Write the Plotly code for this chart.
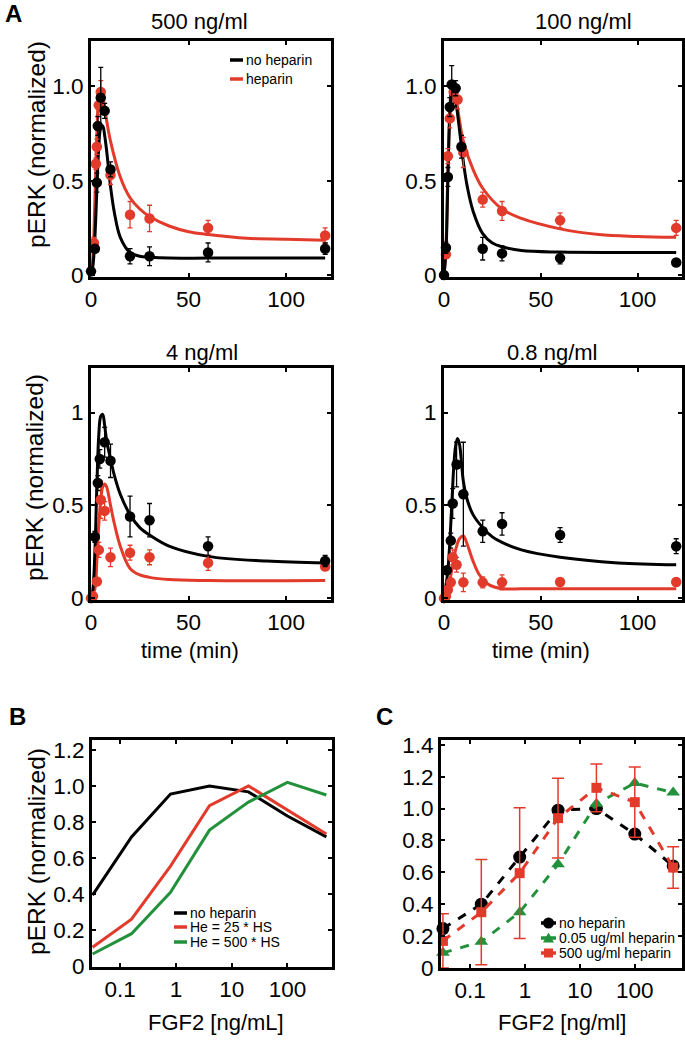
import plotly.graph_objects as go
from plotly.subplots import make_subplots

W, H = 685, 1043
RED = "#e23b2b"
GREEN = "#23913c"
FONT = "Liberation Sans, Arial, sans-serif"

# ---------- A: pERK time courses (time in min) ----------
# 500 ng/ml
t_nh_500 = [0, 2, 3, 3.5, 5, 7, 10, 20, 30, 60, 120]
y_nh_500 = [0.02, 0.14, 0.49, 0.79, 0.94, 0.87, 0.56, 0.10, 0.10, 0.12, 0.14]
e_nh_500 = [0.01, 0.02, 0.05, 0.05, 0.16, 0.04, 0.04, 0.04, 0.05, 0.05, 0.03]
t_he_500 = [1.5, 2.5, 3, 4, 5, 10, 20, 30, 60, 120]
y_he_500 = [0.17, 0.59, 0.68, 0.90, 0.97, 0.53, 0.32, 0.30, 0.25, 0.21]
e_he_500 = [0.03, 0.03, 0.04, 0.05, 0.06, 0.05, 0.07, 0.07, 0.04, 0.04]
tf_nh_500 = [0, 1, 2, 3, 4, 5, 6, 7, 8, 10, 12, 15, 20, 25, 30, 40, 60, 90, 120]
yf_nh_500 = [0, 0.05, 0.2, 0.45, 0.68, 0.78, 0.79, 0.74, 0.66, 0.47, 0.33, 0.2, 0.12, 0.1, 0.095, 0.09, 0.09, 0.09, 0.09]
tf_he_500 = [0, 1, 2, 3, 4, 5, 6, 8, 10, 15, 20, 25, 30, 40, 50, 60, 80, 100, 120]
yf_he_500 = [0, 0.1, 0.4, 0.75, 0.95, 0.99, 0.95, 0.82, 0.71, 0.52, 0.41, 0.35, 0.31, 0.26, 0.23, 0.215, 0.195, 0.19, 0.185]

# 100 ng/ml
t_nh_100 = [0, 1, 2, 3, 4, 6, 9, 20, 30, 60, 120]
y_nh_100 = [0.0, 0.145, 0.52, 0.89, 1.01, 0.99, 0.68, 0.14, 0.115, 0.09, 0.067]
e_nh_100 = [0.01, 0.03, 0.05, 0.05, 0.1, 0.04, 0.06, 0.06, 0.04, 0.03, 0.02]
t_he_100 = [1, 2, 3, 5, 7, 10, 20, 30, 60, 120]
y_he_100 = [0.11, 0.63, 0.83, 0.97, 0.93, 0.65, 0.40, 0.34, 0.29, 0.25]
e_he_100 = [0.02, 0.04, 0.05, 0.06, 0.05, 0.08, 0.04, 0.05, 0.04, 0.04]
tf_nh_100 = [0, 1, 2, 3, 4, 5, 6, 8, 10, 12, 15, 20, 25, 30, 40, 60, 90, 120]
yf_nh_100 = [0, 0.12, 0.5, 0.85, 0.98, 0.985, 0.93, 0.77, 0.6, 0.47, 0.34, 0.22, 0.17, 0.15, 0.13, 0.122, 0.12, 0.12]
tf_he_100 = [0, 1, 2, 3, 4, 5, 6, 8, 10, 15, 20, 30, 40, 60, 80, 100, 120]
yf_he_100 = [0, 0.15, 0.55, 0.85, 0.97, 0.985, 0.95, 0.82, 0.71, 0.56, 0.46, 0.35, 0.3, 0.245, 0.215, 0.205, 0.2]

# 4 ng/ml
t_nh_4 = [2, 3.5, 4.5, 7, 10, 20, 30, 60, 120]
y_nh_4 = [0.33, 0.62, 0.75, 0.84, 0.74, 0.44, 0.42, 0.28, 0.20]
e_nh_4 = [0.03, 0.04, 0.05, 0.08, 0.09, 0.11, 0.09, 0.05, 0.03]
t_he_4 = [0, 1, 3, 4, 5, 7, 10, 20, 30, 60, 120]
y_he_4 = [0.0, 0.01, 0.09, 0.26, 0.53, 0.47, 0.22, 0.245, 0.22, 0.19, 0.17]
e_he_4 = [0.01, 0.01, 0.02, 0.04, 0.1, 0.05, 0.05, 0.04, 0.04, 0.04, 0.02]
tf_nh_4 = [0, 1, 2, 3, 4, 5, 6, 7, 8, 10, 12, 15, 20, 25, 30, 40, 60, 90, 120]
yf_nh_4 = [0, 0.05, 0.25, 0.6, 0.88, 0.98, 0.99, 0.93, 0.85, 0.75, 0.66, 0.56, 0.45, 0.38, 0.34, 0.28, 0.225, 0.2, 0.19]
tf_he_4 = [0, 2, 3, 4, 5, 6, 7, 8, 10, 12, 15, 20, 25, 30, 40, 60, 120]
yf_he_4 = [0, 0.05, 0.2, 0.4, 0.53, 0.6, 0.615, 0.6, 0.5, 0.4, 0.28, 0.16, 0.125, 0.112, 0.1, 0.095, 0.095]

# 0.8 ng/ml
t_nh_08 = [1.5, 3.5, 4.5, 6.5, 10, 20, 30, 60, 120]
y_nh_08 = [0.15, 0.31, 0.51, 0.72, 0.56, 0.36, 0.40, 0.34, 0.28]
e_nh_08 = [0.02, 0.04, 0.08, 0.12, 0.28, 0.06, 0.06, 0.04, 0.04]
t_he_08 = [0, 1, 2, 3.5, 4.5, 6.5, 10, 20, 30, 60, 120]
y_he_08 = [0.0, 0.01, 0.045, 0.085, 0.22, 0.18, 0.085, 0.085, 0.085, 0.087, 0.087]
e_he_08 = [0.01, 0.01, 0.01, 0.02, 0.04, 0.04, 0.05, 0.03, 0.04, 0.02, 0.02]
tf_nh_08 = [0, 2, 4, 5, 6, 7, 8, 10, 12, 15, 20, 25, 30, 40, 60, 90, 120]
yf_nh_08 = [0, 0.15, 0.5, 0.7, 0.82, 0.86, 0.83, 0.63, 0.53, 0.45, 0.38, 0.33, 0.30, 0.26, 0.22, 0.19, 0.18]
tf_he_08 = [0, 2, 4, 6, 8, 10, 12, 15, 18, 22, 26, 31, 40, 60, 120]
yf_he_08 = [0, 0.05, 0.15, 0.26, 0.32, 0.335, 0.29, 0.2, 0.13, 0.08, 0.06, 0.05, 0.05, 0.05, 0.05]

# ---------- B: model dose response ----------
fgf2_dose = [0.032, 0.16, 0.8, 4, 20, 100, 500]
b_no_heparin = [0.394, 0.717, 0.955, 1.0, 0.967, 0.833, 0.717]
b_he_25 = [0.105, 0.26, 0.555, 0.89, 1.0, 0.867, 0.733]
b_he_500 = [0.067, 0.18, 0.41, 0.755, 0.91, 1.02, 0.95]

# ---------- C: measured dose response ----------
c_no_heparin = [0.247, 0.40, 0.696, 0.99, 1.0, 0.84, 0.64]
c_hep_005 = [0.095, 0.165, 0.35, 0.65, 1.03, 1.16, 1.10]
c_hep_500 = [0.17, 0.35, 0.595, 0.94, 1.13, 1.04, 0.63]
c_hep_500_err = [0.17, 0.33, 0.41, 0.25, 0.15, 0.22, 0.13]


def xd(a, b):
    return [a / W, b / W]


def yd(top, bottom):
    return [1 - bottom / H, 1 - top / H]


fig = make_subplots(rows=3, cols=2)

a_panels = [
    (1, 1, tf_nh_500, yf_nh_500, tf_he_500, yf_he_500, t_nh_500, y_nh_500, e_nh_500, t_he_500, y_he_500, e_he_500),
    (1, 2, tf_nh_100, yf_nh_100, tf_he_100, yf_he_100, t_nh_100, y_nh_100, e_nh_100, t_he_100, y_he_100, e_he_100),
    (2, 1, tf_nh_4, yf_nh_4, tf_he_4, yf_he_4, t_nh_4, y_nh_4, e_nh_4, t_he_4, y_he_4, e_he_4),
    (2, 2, tf_nh_08, yf_nh_08, tf_he_08, yf_he_08, t_nh_08, y_nh_08, e_nh_08, t_he_08, y_he_08, e_he_08),
]

for r, c, tfn, yfn, tfh, yfh, tn, yn, en, th, yh, eh in a_panels:
    fig.add_trace(go.Scatter(x=tfh, y=yfh, mode="lines", line=dict(color=RED, width=3, shape="spline"),
                             name="heparin"), row=r, col=c)
    fig.add_trace(go.Scatter(x=tfn, y=yfn, mode="lines", line=dict(color="black", width=3, shape="spline"),
                             name="no heparin"), row=r, col=c)
    fig.add_trace(go.Scatter(x=th, y=yh, mode="markers", marker=dict(color=RED, size=10.5),
                             error_y=dict(type="data", array=eh, color=RED, thickness=1.3, width=2.5),
                             cliponaxis=False), row=r, col=c)
    fig.add_trace(go.Scatter(x=tn, y=yn, mode="markers", marker=dict(color="black", size=10.5),
                             error_y=dict(type="data", array=en, color="black", thickness=1.3, width=2.5),
                             cliponaxis=False), row=r, col=c)

# B
for name, vals, col in [("no heparin", b_no_heparin, "black"),
                        ("He = 25 * HS", b_he_25, RED),
                        ("He = 500 * HS", b_he_500, GREEN)]:
    fig.add_trace(go.Scatter(x=fgf2_dose, y=vals, mode="lines", name=name,
                             line=dict(color=col, width=3)), row=3, col=1)

# C
fig.add_trace(go.Scatter(x=fgf2_dose, y=c_no_heparin, mode="lines+markers", name="no heparin",
                         line=dict(color="black", width=3, dash="dash"),
                         marker=dict(symbol="circle", size=13, color="black"),
                         cliponaxis=False), row=3, col=2)
fig.add_trace(go.Scatter(x=fgf2_dose, y=c_hep_005, mode="lines+markers", name="0.05 ug/ml heparin",
                         line=dict(color=GREEN, width=3, dash="dash"),
                         marker=dict(symbol="triangle-up", size=12, color=GREEN),
                         cliponaxis=False), row=3, col=2)
fig.add_trace(go.Scatter(x=fgf2_dose, y=c_hep_500, mode="lines+markers", name="500 ug/ml heparin",
                         line=dict(color=RED, width=3, dash="dash"),
                         marker=dict(symbol="square", size=10, color=RED),
                         error_y=dict(type="data", array=c_hep_500_err, color=RED, thickness=1.5, width=6),
                         cliponaxis=False), row=3, col=2)

axis_style = dict(showline=True, linecolor="black", linewidth=3, mirror="ticks", ticks="inside",
                  ticklen=4, tickwidth=1.5, tickcolor="black", showgrid=False, zeroline=False,
                  tickfont=dict(size=22.5, color="black", family=FONT))

a_dom = [(xd(91, 331), yd(41, 277)), (xd(444, 682), yd(41, 277)),
         (xd(91, 331), yd(368, 600)), (xd(444, 682), yd(368, 600))]
a_yticks = [["0", "0.5", "1.0"], ["0", "0.5", "1.0"], ["0", "0.5", "1"], ["0", "0.5", "1"]]
for k, ((dx, dy), ytxt) in enumerate(zip(a_dom, a_yticks), start=1):
    sfx = "" if k == 1 else str(k)
    fig.update_layout({
        "xaxis" + sfx: dict(axis_style, domain=dx, range=[0, 123], tickvals=[0, 50, 100]),
        "yaxis" + sfx: dict(axis_style, domain=dy, range=[-0.01, 1.24], tickvals=[0, 0.5, 1.0], ticktext=ytxt),
    })

fig.update_layout(
    xaxis5=dict(axis_style, domain=xd(92, 332), type="log", range=[-1.505, 2.8],
                tickvals=[0.1, 1, 10, 100], ticktext=["0.1", "1", "10", "100"]),
    yaxis5=dict(axis_style, domain=yd(740, 967), range=[-0.005, 1.255],
                tickvals=[0, 0.2, 0.4, 0.6, 0.8, 1.0, 1.2], ticktext=["0", "0.2", "0.4", "0.6", "0.8", "1.0", "1.2"]),
    xaxis6=dict(axis_style, domain=xd(441, 682), type="log", range=[-1.53, 2.86],
                tickvals=[0.1, 1, 10, 100], ticktext=["0.1", "1", "10", "100"]),
    yaxis6=dict(axis_style, domain=yd(740, 968), range=[0, 1.43],
                tickvals=[0, 0.2, 0.4, 0.6, 0.8, 1.0, 1.2, 1.4],
                ticktext=["0", "0.2", "0.4", "0.6", "0.8", "1.0", "1.2", "1.4"]),
)


def text(x, y, s, size=22, angle=0, bold=False, anchor="center"):
    fig.add_annotation(x=x / W, y=1 - y / H, xref="paper", yref="paper", text=f"<b>{s}</b>" if bold else s,
                       showarrow=False, textangle=angle, xanchor=anchor, yanchor="middle",
                       font=dict(size=size, color="black", family=FONT))


# hand-placed legends (compact rows like the original)
def key(x0, x1, y, label, color, symbol=None):
    fig.add_shape(type="line", xref="paper", yref="paper", x0=x0 / W, x1=x1 / W,
                  y0=1 - y / H, y1=1 - y / H, line=dict(color=color, width=3.5))
    xc = (x0 + x1) / 2
    if symbol == "circle":
        r = 5.5
        fig.add_shape(type="circle", xref="paper", yref="paper", x0=(xc - r) / W, x1=(xc + r) / W,
                      y0=1 - (y + r) / H, y1=1 - (y - r) / H, fillcolor=color, line=dict(width=0))
    elif symbol == "square":
        r = 4.5
        fig.add_shape(type="rect", xref="paper", yref="paper", x0=(xc - r) / W, x1=(xc + r) / W,
                      y0=1 - (y + r) / H, y1=1 - (y - r) / H, fillcolor=color, line=dict(width=0))
    elif symbol == "triangle":
        p = f"M {(xc - 5.5) / W},{1 - (y + 4.5) / H} L {(xc + 5.5) / W},{1 - (y + 4.5) / H} L {xc / W},{1 - (y - 5.5) / H} Z"
        fig.add_shape(type="path", xref="paper", yref="paper", path=p, fillcolor=color, line=dict(width=0))
    text(x1 + 1, y, label, size=14, anchor="left")


key(230, 243, 60, "no heparin", "black")
key(230, 243, 79, "heparin", RED)
key(174, 187, 913, "no heparin", "black")
key(174, 187, 927, "He = 25 * HS", RED)
key(174, 187, 942, "He = 500 * HS", GREEN)
key(541, 556, 923, "no heparin", "black", "circle")
key(541, 556, 938, "0.05 ug/ml heparin", GREEN, "triangle")
key(541, 556, 953, "500 ug/ml heparin", RED, "square")

text(200, 22, "500 ng/ml")
text(583, 22, "100 ng/ml")
text(202, 352, "4 ng/ml")
text(552, 352, "0.8 ng/ml")
text(36, 145, "pERK (normalized)", size=24.5, angle=-90)
text(34, 478, "pERK (normalized)", size=24.5, angle=-90)
text(36, 852, "pERK (normalized)", size=24.5, angle=-90)
text(190, 650, "time (min)")
text(541, 650, "time (min)")
text(216, 1022, "FGF2 [ng/mL]")
text(562, 1022, "FGF2 [ng/ml]")
text(13, 14, "A", size=24, bold=True)
text(17, 716, "B", size=24, bold=True)
text(384, 716, "C", size=24, bold=True)

fig.update_layout(width=W, height=H, margin=dict(l=0, r=0, t=0, b=0, autoexpand=False), showlegend=False,
                  plot_bgcolor="white", paper_bgcolor="white", font=dict(family=FONT, color="black"))

# drop the default page margin so the 685x1043 figure fills the window exactly
fig.write_html("out.html", config={"displayModeBar": False},
               post_script="document.body.style.margin='0';document.body.style.overflow='hidden';")
